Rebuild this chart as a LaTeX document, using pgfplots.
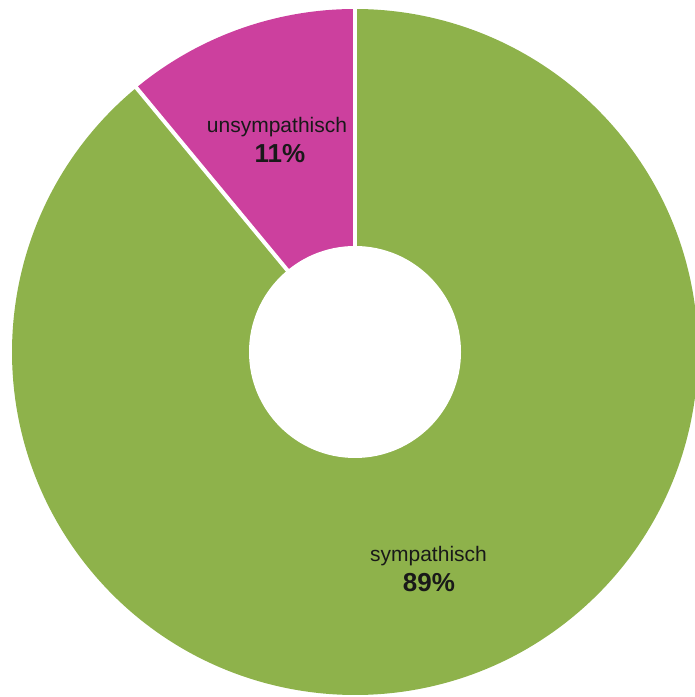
\documentclass[border=0pt]{standalone}
\usepackage{pgfplots}
\pgfplotsset{compat=1.18}
\usepackage{pgfplotstable}
\usepackage{fontspec}
\setmainfont{Liberation Sans}
\definecolor{cgreen}{RGB}{142,178,75}
\definecolor{cmag}{RGB}{204,64,158}
\pgfplotstableread{
label value
unsympathisch 11
sympathisch 89
}\datatable
\begin{document}
\begin{tikzpicture}
\clip (0,0) rectangle (695bp,697bp);
\pgfplotstablegetelem{0}{value}\of\datatable \let\vA\pgfplotsretval
\pgfplotstablegetelem{1}{value}\of\datatable \let\vB\pgfplotsretval
\pgfmathsetmacro{\aA}{90+\vA*3.6}
\pgfmathsetmacro{\aB}{\aA+\vB*3.6}
\begin{axis}[
  scale only axis, width=695bp, height=697bp,
  xmin=0, xmax=695, ymin=0, ymax=697,
  hide axis, clip=false,
]
\fill[cmag] (axis cs:355,345) -- ++(90:343bp) arc[start angle=90, end angle=\aA, radius=343bp] -- cycle;
\fill[cgreen] (axis cs:355,345) -- ++(\aA:343bp) arc[start angle=\aA, end angle=\aB, radius=343bp] -- cycle;
\draw[white, line width=4bp] (axis cs:355,345) -- ++(90:350bp);
\draw[white, line width=4bp] (axis cs:355,345) -- ++(\aA:350bp);
\fill[white] (axis cs:355,345) circle[radius=106bp];
\node[anchor=base, font=\fontsize{21bp}{25bp}\selectfont, text=black!90] at (axis cs:277,564) {unsympathisch};
\node[anchor=base, font=\fontsize{26bp}{30bp}\selectfont\bfseries, text=black!90] at (axis cs:280,534) {\vA\%};
\node[anchor=base, font=\fontsize{21bp}{25bp}\selectfont, text=black!90] at (axis cs:428.5,135) {sympathisch};
\node[anchor=base, font=\fontsize{26bp}{30bp}\selectfont\bfseries, text=black!90] at (axis cs:429,105) {\vB\%};
\end{axis}
\end{tikzpicture}
\end{document}
